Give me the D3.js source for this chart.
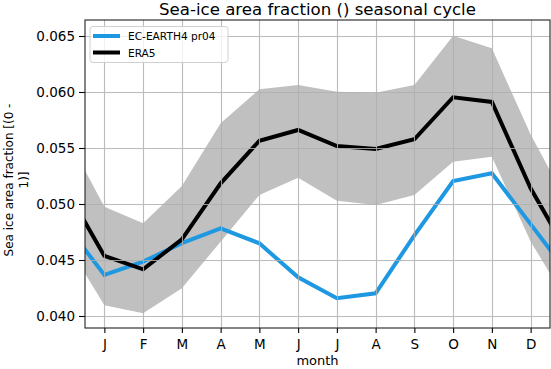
<!DOCTYPE html>
<meta charset="utf-8">
<style>
body { margin: 0; background: #fff; }
text { font-family: "DejaVu Sans", sans-serif; fill: #000; }
</style>
<body>
<script src="https://cdn.jsdelivr.net/npm/d3@7"></script>
<script>

var monthLabels = ["J", "F", "M", "A", "M", "J", "J", "A", "S", "O", "N", "D"];
var yTicks = [0.040, 0.045, 0.050, 0.055, 0.060, 0.065];

// monthly means, Jan..Dec
var ecEarth = [0.04366, 0.04485, 0.0465, 0.04783, 0.04649, 0.04345, 0.04158, 0.04203, 0.0472, 0.05205, 0.05274, 0.0482];
var era5 = [0.04536, 0.04417, 0.04685, 0.05185, 0.05565, 0.05661, 0.05518, 0.05491, 0.05578, 0.05953, 0.05911, 0.0514];
var era5Upper = [0.04976, 0.04828, 0.05161, 0.0572, 0.06024, 0.06063, 0.06003, 0.05994, 0.06063, 0.06503, 0.0639, 0.0562];
var era5Lower = [0.04095, 0.04024, 0.04247, 0.04664, 0.0508, 0.05235, 0.0503, 0.04991, 0.0508, 0.05378, 0.05422, 0.04665];

var width = 551, height = 369;
var plotL = 85, plotR = 550, plotT = 20, plotB = 328;

var svg = d3.select("body").append("svg")
    .attr("width", width)
    .attr("height", height);

var x = d3.scaleLinear().domain([0.5, 12.5]).range([plotL, plotR]);
var y = d3.scaleLinear().domain([0.040, 0.065]).range([316, 36]);

// wrap Dec before Jan and Jan after Dec, clipped at the axes
function wrap(vals) {
  var pts = vals.map(function(v, i) { return [i + 1, v]; });
  pts.unshift([0, vals[11]]);
  pts.push([13, vals[0]]);
  return pts;
}

svg.append("clipPath").attr("id", "clip")
  .append("rect")
    .attr("x", plotL).attr("y", plotT)
    .attr("width", plotR - plotL).attr("height", plotB - plotT);

var plot = svg.append("g").attr("clip-path", "url(#clip)");

var lo = wrap(era5Lower);
var band = wrap(era5Upper).map(function(d, i) { return [d[0], d[1], lo[i][1]]; });

plot.append("path")
    .datum(band)
    .attr("fill", "#c0c0c0")
    .attr("d", d3.area()
      .x(function(d) { return x(d[0]); })
      .y0(function(d) { return y(d[2]); })
      .y1(function(d) { return y(d[1]); }));

// grid
var grid = svg.append("g").attr("stroke", "#b0b0b0").attr("stroke-width", 1.1).attr("opacity", 0.85);
grid.selectAll(".gx").data(d3.range(1, 13)).enter().append("line")
    .attr("x1", function(d) { return Math.round(x(d)) + 0.5; })
    .attr("x2", function(d) { return Math.round(x(d)) + 0.5; })
    .attr("y1", plotT).attr("y2", plotB);
grid.selectAll(".gy").data(yTicks).enter().append("line")
    .attr("y1", function(d) { return Math.round(y(d)) + 0.5; })
    .attr("y2", function(d) { return Math.round(y(d)) + 0.5; })
    .attr("x1", plotL).attr("x2", plotR);

var line = d3.line()
    .x(function(d) { return x(d[0]); })
    .y(function(d) { return y(d[1]); });

plot.append("path")
    .datum(wrap(ecEarth))
    .attr("fill", "none")
    .attr("stroke", "#1f98e2")
    .attr("stroke-width", 4)
    .attr("d", line);

plot.append("path")
    .datum(wrap(era5))
    .attr("fill", "none")
    .attr("stroke", "#000")
    .attr("stroke-width", 4)
    .attr("d", line);

// axes
var xAxis = svg.append("g")
    .attr("transform", "translate(0," + plotB + ")")
    .call(d3.axisBottom(x).tickValues(d3.range(1, 13))
      .tickFormat(function(d) { return monthLabels[d - 1]; })
      .tickSize(5).tickPadding(6));

var yAxis = svg.append("g")
    .attr("transform", "translate(" + plotL + ",0)")
    .call(d3.axisLeft(y).tickValues(yTicks)
      .tickFormat(d3.format(".3f"))
      .tickSize(6).tickPadding(4));

[xAxis, yAxis].forEach(function(a) {
  a.select(".domain").remove();
  a.selectAll("text").style("font-size", "13.5px").attr("fill", "#000");
  a.selectAll("line").attr("stroke", "#000").attr("stroke-width", 1.1);
});

svg.append("rect")
    .attr("x", plotL).attr("y", plotT)
    .attr("width", plotR - plotL).attr("height", plotB - plotT)
    .attr("fill", "none")
    .attr("stroke", "#222")
    .attr("stroke-width", 1.1);

// title and labels
svg.append("text")
    .attr("x", (plotL + plotR) / 2).attr("y", 15)
    .attr("text-anchor", "middle")
    .style("font-size", "16.6px")
    .text("Sea-ice area fraction () seasonal cycle");

svg.append("text")
    .attr("x", (plotL + plotR) / 2).attr("y", 365)
    .attr("text-anchor", "middle")
    .style("font-size", "13px")
    .text("month");

var yl = svg.append("text")
    .attr("transform", "translate(12.5,180) rotate(-90)")
    .attr("text-anchor", "middle")
    .style("font-size", "12px");
yl.append("tspan").attr("x", 0).attr("dy", 0).text("Sea ice area fraction [(0 -");
yl.append("tspan").attr("x", 0).attr("dy", "1.25em").text("1)]");

// legend
var legend = svg.append("g");
legend.append("rect")
    .attr("x", 90).attr("y", 26.5)
    .attr("width", 138).attr("height", 36)
    .attr("rx", 3)
    .attr("fill", "#fff").attr("fill-opacity", 0.8)
    .attr("stroke", "#d0d0d0");
var items = [["EC-EARTH4 pr04", "#1f98e2"], ["ERA5", "#000"]];
items.forEach(function(it, i) {
  var yy = 36 + i * 16.5;
  legend.append("line")
      .attr("x1", 93).attr("x2", 120)
      .attr("y1", yy).attr("y2", yy)
      .attr("stroke", it[1]).attr("stroke-width", 4);
  legend.append("text")
      .attr("x", 128).attr("y", yy + 4)
      .style("font-size", "10.6px")
      .text(it[0]);
});

</script>
</body>
